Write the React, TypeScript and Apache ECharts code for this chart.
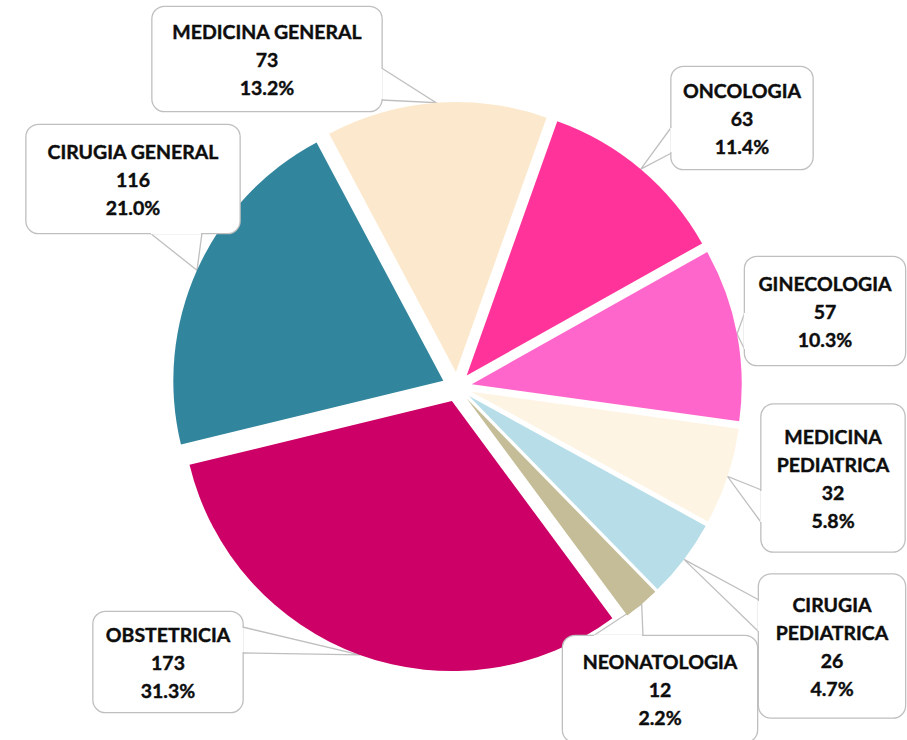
import { useEffect, useRef } from 'react';
import * as echarts from 'echarts';

const categories = [
  'MEDICINA GENERAL',
  'ONCOLOGIA',
  'GINECOLOGIA',
  'MEDICINA PEDIATRICA',
  'CIRUGIA PEDIATRICA',
  'NEONATOLOGIA',
  'OBSTETRICIA',
  'CIRUGIA GENERAL',
];
const values = [73, 63, 57, 32, 26, 12, 173, 116];
const colors = ['#FCE9CD', '#FF3399', '#FF66CC', '#FEF4E4', '#B7DEE8', '#C4BD97', '#CC0066', '#31859C'];

// callout boxes (layout only): centre, size, wrapped name, side and span of the pointer base
type Box = { cx: number; cy: number; w: number; h: number; wrap: boolean; side: 'l' | 'r' | 't' | 'b'; b0: number; b1: number };
const boxes: Box[] = [
  { cx: 267, cy: 59, w: 229, h: 104, wrap: false, side: 'r', b0: 68, b1: 100 },
  { cx: 742, cy: 118, w: 141, h: 102, wrap: false, side: 'l', b0: 127, b1: 153 },
  { cx: 825, cy: 311, w: 160, h: 108, wrap: false, side: 'l', b0: 312, b1: 350 },
  { cx: 833, cy: 478, w: 143, h: 147, wrap: true, side: 'l', b0: 490, b1: 523 },
  { cx: 832, cy: 646, w: 146, h: 143, wrap: true, side: 'l', b0: 600, b1: 632 },
  { cx: 660, cy: 689, w: 194, h: 106, wrap: false, side: 't', b0: 593, b1: 643 },
  { cx: 168, cy: 662, w: 149, h: 100, wrap: false, side: 'r', b0: 627, b1: 653 },
  { cx: 133, cy: 179, w: 213, h: 108, wrap: false, side: 'b', b0: 150, b1: 202 },
];

const LINE_H = 28;
const EXPLODE = 15;
const CORNER = 12;
const CENTER = [457, 387];
const RADIUS = 270;
const START = 118;
const BORDER = '#BFBFBF';

function baseEnds(b: Box): number[][] {
  const l = b.cx - b.w / 2, r = b.cx + b.w / 2, t = b.cy - b.h / 2, bt = b.cy + b.h / 2;
  if (b.side === 'l') return [[l, b.b0], [l, b.b1]];
  if (b.side === 'r') return [[r, b.b0], [r, b.b1]];
  if (b.side === 't') return [[b.b0, t], [b.b1, t]];
  return [[b.b0, bt], [b.b1, bt]];
}

export default function App() {
  const ref = useRef<HTMLDivElement>(null);
  useEffect(() => {
    if (!ref.current) return;
    const chart = echarts.init(ref.current, null, { renderer: 'svg' });
    const total = values.reduce((a, b) => a + b, 0);
    const sliceData = categories.map((name, i) => ({
      name,
      value: values[i],
      selected: true,
      itemStyle: { color: colors[i] },
    }));
    const labelData = categories.map((name, i) => {
      const b = boxes[i];
      const nLines = b.wrap ? 4 : 3;
      const pv = (b.h - nLines * LINE_H) / 2;
      return {
        name,
        value: values[i],
        label: { width: b.w, padding: [pv, 0, pv, 0] },
      };
    });
    // white gaps in the box outline where each pointer joins it
    const gaps = boxes.map((b) => {
      const [A, B] = baseEnds(b);
      const vert = b.side === 'l' || b.side === 'r';
      return {
        type: 'line',
        z: 100,
        silent: true,
        shape: vert
          ? { x1: A[0], y1: A[1] + 1, x2: B[0], y2: B[1] - 1 }
          : { x1: A[0] + 1, y1: A[1], x2: B[0] - 1, y2: B[1] },
        style: { stroke: '#ffffff', lineWidth: 2.4 },
      };
    });
    chart.setOption({
      animation: false,
      graphic: gaps,
      series: [
        {
          type: 'pie',
          center: CENTER,
          radius: RADIUS,
          startAngle: START,
          clockwise: true,
          selectedMode: 'multiple',
          selectedOffset: EXPLODE,
          silent: true,
          emphasis: { disabled: true },
          label: { show: false },
          labelLine: { show: false },
          data: sliceData,
        },
        {
          type: 'pie',
          center: CENTER,
          radius: RADIUS,
          startAngle: START,
          clockwise: true,
          selectedMode: false,
          silent: true,
          avoidLabelOverlap: false,
          emphasis: { disabled: true },
          itemStyle: { color: 'rgba(0,0,0,0)' },
          data: labelData,
          label: {
            show: true,
            position: 'outside',
            formatter: (p: any) => {
              const b = boxes[p.dataIndex];
              const nm = b.wrap ? p.name.replace(' ', '\n') : p.name;
              return `${nm}\n${p.value}\n${((p.value / total) * 100).toFixed(1)}%`;
            },
            fontFamily: 'Lato',
            fontWeight: 'bold',
            fontSize: 19.5,
            lineHeight: LINE_H,
            color: '#0d0d0d',
            textBorderColor: '#0d0d0d',
            textBorderWidth: 0.4,
            align: 'center',
            backgroundColor: '#ffffff',
            borderColor: BORDER,
            borderWidth: 1.3,
            borderRadius: CORNER,
          },
          labelLine: {
            show: true,
            length: 20,
            length2: 10,
            lineStyle: { color: BORDER, width: 1.3 },
          },
          labelLayout: (p: any) => {
            const b = boxes[p.dataIndex];
            const res: any = { x: b.cx, y: b.cy, align: 'center', verticalAlign: 'middle' };
            const pts = p.labelLinePoints;
            if (pts && pts.length >= 2) {
              const [x0, y0] = pts[0];
              const [x1, y1] = pts[1];
              const len = Math.hypot(x1 - x0, y1 - y0) || 1;
              const tx = x0 + ((x1 - x0) / len) * EXPLODE;
              const ty = y0 + ((y1 - y0) / len) * EXPLODE;
              const [A, B] = baseEnds(b);
              res.labelLinePoints = [A, [tx, ty], B];
            }
            return res;
          },
        },
      ],
    });
    return () => chart.dispose();
  }, []);
  return (
    <div
      ref={ref}
      style={{ position: 'fixed', left: 0, top: 0, width: 907, height: 740, background: '#fff' }}
    />
  );
}
